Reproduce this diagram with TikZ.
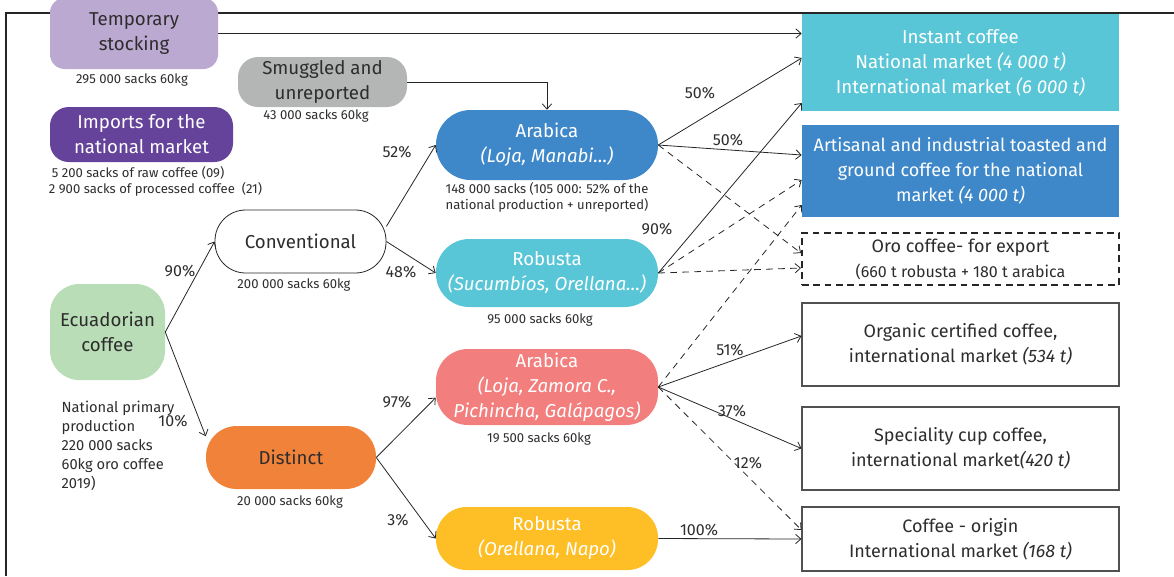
\documentclass[tikz,border=0pt]{standalone}
\usepackage{fontspec}
\setmainfont{Fira Sans}
\usetikzlibrary{arrows.meta,calc}
\definecolor{cdark}{HTML}{2D2D2D}
\definecolor{cline}{HTML}{262626}
\definecolor{clav}{HTML}{BCA9D2}
\definecolor{cgray}{HTML}{B3B6B5}
\definecolor{cpurple}{HTML}{65439A}
\definecolor{cgreen}{HTML}{B9DDB6}
\definecolor{corange}{HTML}{F0823A}
\definecolor{cblue}{HTML}{3E88C9}
\definecolor{ccyan}{HTML}{58C6D7}
\definecolor{csalmon}{HTML}{F27E7D}
\definecolor{cyellow}{HTML}{FDBE26}
\tikzset{
  blob/.style={rectangle,rounded corners=11pt,align=center,inner sep=0pt,text=cdark,font=\fontsize{14}{18.75}\selectfont},
  mkt/.style={rectangle,minimum width=237.75pt,align=center,inner sep=0pt,text=cdark,font=\fontsize{13.5}{18.75}\selectfont},
  wbox/.style={mkt,draw=cline!80,line width=0.8pt},
  arr/.style={-{Straight Barb[length=4pt,width=7pt]},line width=0.6pt,draw=cline},
  darr/.style={arr,dash pattern=on 5pt off 4pt},
  lbl/.style={font=\fontsize{9.8}{12}\selectfont,text=cdark},
  pct/.style={font=\fontsize{12}{14}\selectfont,text=cdark},
}

\begin{document}
\begin{tikzpicture}[x=0.75pt,y=-0.75pt]
  \useasboundingbox (0,0) rectangle (1174,576);
  \draw[line width=0.8pt,draw=cline] (1174,13) -- (6,13) -- (6,576);

  \node[blob,fill=clav,minimum width=126pt,minimum height=53.25pt] (stock) at (134,33.5) {Temporary\\stocking};
  \node[blob,fill=cgray,rounded corners=15pt,minimum width=126.75pt,minimum height=37.5pt] (smug) at (322.5,82) {Smuggled and\\unreported};
  \node[blob,fill=cpurple,text=white,rounded corners=14pt,minimum width=137.25pt,minimum height=41.25pt] (imp) at (141.5,134.5) {Imports for the\\national market};
  \node[blob,fill=cgreen,rounded corners=22pt,minimum width=86.25pt,minimum height=72pt] (ecu) at (107.5,332) {Ecuadorian\\coffee};
  \node[blob,draw=cline,line width=0.6pt,fill=white,rounded corners=23pt,minimum width=128.25pt,minimum height=47.25pt] (conv) at (300.5,241.5) {Conventional};
  \node[blob,fill=corange,rounded corners=23pt,minimum width=127.5pt,minimum height=47.25pt] (dist) at (291,457.5) {Distinct};
  \node[blob,fill=cblue,text=white,rounded corners=26pt,minimum width=166.5pt,minimum height=52.5pt] (arab) at (547,145) {Arabica\\\textit{(Loja, Manabi…)}};
  \node[blob,fill=ccyan,text=white,rounded corners=25pt,minimum width=166.5pt,minimum height=51pt] (rob) at (547,273) {Robusta\\\textit{(Sucumbíos, Orellana…)}};
  \node[blob,fill=csalmon,text=white,rounded corners=24pt,minimum width=166.5pt,minimum height=57pt] (arabd) at (547,387) {Arabica\\\textit{(Loja, Zamora C.,}\\\textit{Pichincha, Galápagos)}};
  \node[blob,fill=cyellow,text=white,rounded corners=23pt,minimum width=166.5pt,minimum height=47.25pt] (robd) at (547,538.5) {Robusta\\\textit{(Orellana, Napo)}};

  \node[mkt,fill=ccyan,text=white,minimum height=72.75pt,font=\fontsize{14}{18.75}\selectfont] (inst) at (960.5,62.5) {Instant coffee\\National market \textit{(4 000 t)}\\International market \textit{(6 000 t)}};
  \node[mkt,fill=cblue,text=white,minimum height=69pt] (art) at (960.5,171) {Artisanal and industrial toasted and\\ground coffee for the national\\market \textit{(4 000 t)}};
  \node[mkt,draw=cline,line width=1.5pt,dash pattern=on 5pt off 3.5pt,minimum height=39pt] (oro) at (960.5,259) {Oro coffee- for export\\{\fontsize{12}{14}\selectfont(660 t robusta + 180 t arabica}};
  \node[wbox,minimum height=62.25pt] (org) at (960.5,344.5) {Organic certified coffee,\\international market \textit{(534 t)}};
  \node[wbox,minimum height=62.25pt] (spec) at (960.5,448.5) {Speciality cup coffee,\\international market\textit{(420 t)}};
  \node[wbox,minimum height=48pt] (orig) at (960.5,539) {Coffee - origin\\International market \textit{(168 t)}};

  \node[lbl] (nstock) at (132,80) {295 000 sacks 60kg};
  \node[lbl] (nsmug) at (316,116) {43 000 sacks 60kg};
  \node[lbl,align=left] (nimp) at (155.5,181) {\hspace{2.2pt}5 200 sacks of raw coffee (09)\\2 900 sacks of processed coffee\ \ (21)};
  \node[lbl] (nconv) at (294,285) {200 000 sacks 60kg};
  \node[lbl] (ndist) at (290,502) {20 000 sacks 60kg};
  \node[lbl,align=center] (narab) at (547,197) {148 000 sacks (105 000: 52\% of the\\national production + unreported)};
  \node[lbl] (nrob) at (540,320) {95 000 sacks 60kg};
  \node[lbl] (narabd) at (539,439) {19 500 sacks 60kg};
  \node[lbl,font=\fontsize{11}{14.25}\selectfont,align=left,anchor=west] (necu) at (57,446) {National primary\\production\\220 000 sacks\\60kg oro coffee\\2019)};

  \node[pct] (p90a) at (180,271) {90\%};
  \node[pct] (p10) at (173,421) {10\%};
  \node[pct] (p52) at (397,152) {52\%};
  \node[pct] (p48) at (401,272) {48\%};
  \node[pct] (p97) at (397,402) {97\%};
  \node[pct] (p3) at (398,520) {3\%};
  \node[pct] (p50a) at (700,93) {50\%};
  \node[pct] (p50b) at (728,140) {50\%};
  \node[pct] (p90b) at (657,229) {90\%};
  \node[pct] (p51) at (730,350) {51\%};
  \node[pct] (p37) at (732,411) {37\%};
  \node[pct] (p12) at (748,463) {12\%};
  \node[pct] (p100) at (699,530) {100\%};

  \draw[arr] (stock.east) -- (stock.east -| inst.west);
  \draw[arr] (smug.east) -| (arab.north);
  \draw[arr] (ecu.east) -- (conv.west);
  \draw[arr] (ecu.east) -- (dist.166);
  \draw[arr] (conv.10) -- (arab.west);
  \draw[arr] (conv.east) -- (rob.west);
  \draw[arr] (dist.east) -- ([yshift=-8pt]arabd.west);
  \draw[arr] (dist.east) -- (robd.west);
  \draw[arr] (arab.east) -- ([yshift=3.4pt]inst.west);
  \draw[arr] (arab.east) -- ([yshift=12pt]art.west);
  \draw[darr] (arab.east) -- ([yshift=4.5pt]oro.west);
  \draw[arr] (rob.east) -- ([yshift=-30.4pt]inst.west);
  \draw[darr] (rob.east) -- ([yshift=-6.75pt]art.west);
  \draw[darr] (rob.east) -- ([yshift=-6.75pt]oro.west);
  \draw[darr] (arabd.east) -- ([yshift=-25.5pt]art.west);
  \draw[arr] (arabd.east) -- ([yshift=6.4pt]org.west);
  \draw[arr] (arabd.east) -- (spec.west);
  \draw[darr] (arabd.east) -- ([yshift=6.75pt]orig.west);
  \draw[arr] (robd.east) -- (orig.west);
\end{tikzpicture}
\end{document}
